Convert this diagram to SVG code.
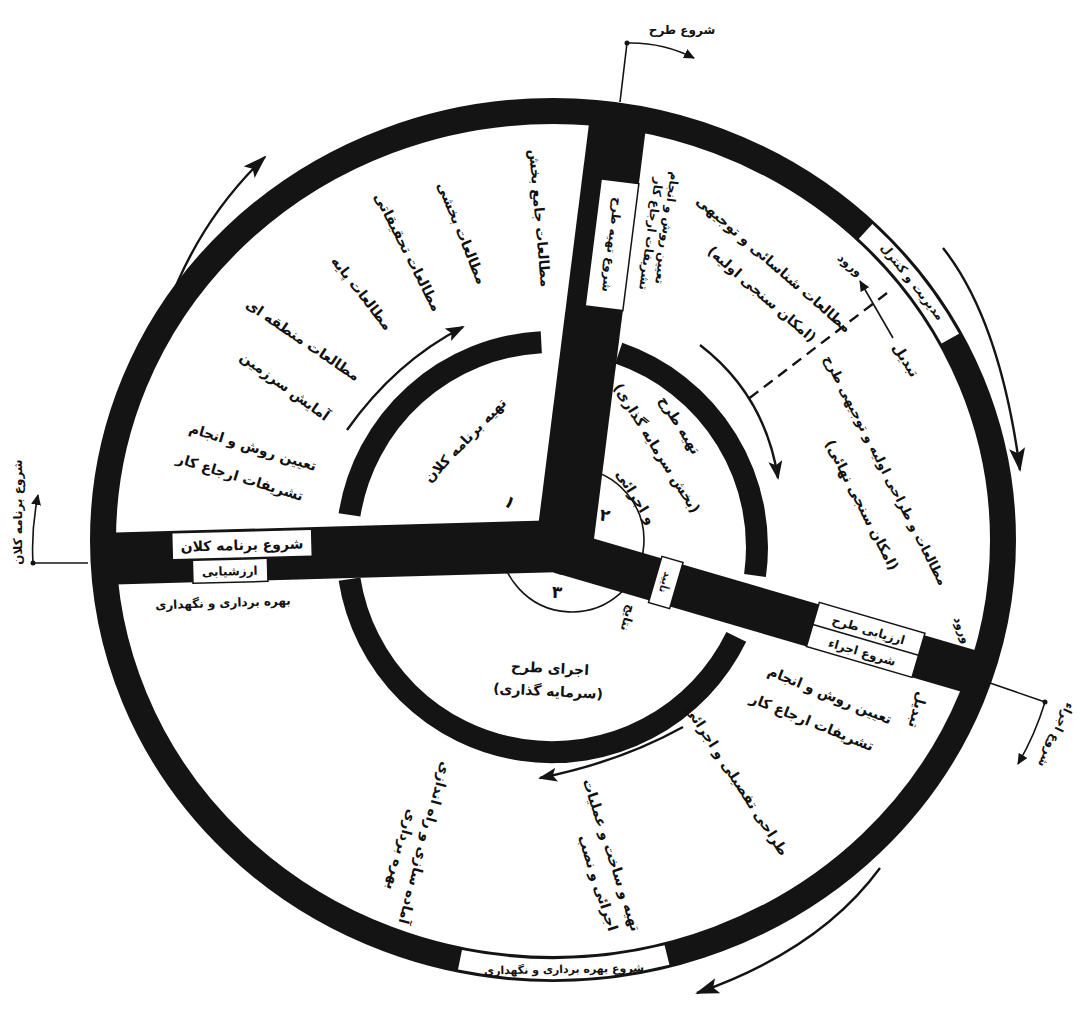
<svg xmlns="http://www.w3.org/2000/svg" width="1087" height="1011" viewBox="0 0 1087 1011">
<style>
.t{font-family:"DejaVu Sans","Noto Sans",sans-serif;font-size:14px;font-weight:bold;fill:#111;text-anchor:middle}
.s{font-size:12px}
.n{font-size:17px}
.bar{fill:#141414}
.ring{fill:none;stroke:#141414}
.wb{fill:#fff;stroke:#141414;stroke-width:1.5}
.ln{fill:none;stroke:#141414;stroke-width:2.4}
.lt{fill:none;stroke:#141414;stroke-width:1.6}
</style>
<defs>
<marker id="ah" markerUnits="userSpaceOnUse" markerWidth="26" markerHeight="16" refX="22" refY="8" orient="auto"><path d="M0,0 L24,8 L0,16 L5,8 z" fill="#141414"/></marker>
<marker id="am" markerUnits="userSpaceOnUse" markerWidth="20" markerHeight="14" refX="17" refY="7" orient="auto"><path d="M0,0 L19,7 L0,14 L4,7 z" fill="#141414"/></marker>
<marker id="as" markerUnits="userSpaceOnUse" markerWidth="12" markerHeight="10" refX="10" refY="5" orient="auto"><path d="M0,0 L11,5 L0,10 z" fill="#141414"/></marker>
</defs>
<rect width="1087" height="1011" fill="#fff"/>

<g id="rings">
<ellipse cx="553" cy="540" rx="450" ry="429" class="ring" stroke-width="26"/>
<path d="M349.5,514.9 A205,205 0 0 1 541.3,342.3" class="ring" stroke-width="22"/>
<path d="M618.7,353.2 A205,205 0 0 1 755,575.5" class="ring" stroke-width="22"/>
<path d="M736.3,636.9 A205,205 0 0 1 349.5,579.1" class="ring" stroke-width="22"/>
<path d="M578.3,468.3 A72,72 0 1 1 500,537.5" class="lt"/>
</g>

<g id="arms">
<polygon class="bar" points="98,533 565,520 565,572 98,585"/>
<g transform="translate(563,545) rotate(7.2)"><rect class="bar" x="-27" y="-440" width="57" height="440"/></g>
<g transform="translate(565,553) rotate(16.3)"><rect class="bar" x="0" y="-22" width="440" height="44"/></g>
<circle class="bar" cx="565" cy="548" r="27"/>
</g>

<g id="box-start-program">
<g transform="rotate(-1.5 242 545)">
<rect class="wb" x="172" y="531" width="140" height="27"/>
<text class="t" x="242" y="550">شروع برنامه کلان</text>
<rect class="wb" x="192" y="559" width="75" height="23"/>
<text class="t s" x="229" y="575">ارزشیابی</text>
</g>
</g>

<g id="box-start-design" transform="translate(563,545) rotate(7.2)">
<rect class="wb" x="-8" y="-368" width="38" height="128"/>
<text class="t s" transform="translate(11,-304) rotate(90)" y="4">شروع تهیه طرح</text>
</g>

<g id="box-evaluation" transform="translate(565,553) rotate(16.3)">
<rect class="wb" x="258" y="-24" width="110" height="46"/>
<line x1="258" y1="-1" x2="368" y2="-1" stroke="#141414" stroke-width="1.5"/>
<text class="t s" x="313" y="-7">ارزیابی طرح</text>
<text class="t s" x="313" y="16">شروع اجراء</text>
<rect class="wb" x="94" y="-24" width="22" height="48"/>
<text class="t" style="font-size:10px" transform="translate(105,0) rotate(90)" y="4">تأیید</text>
</g>

<g id="box-management">
<path d="M865.6,231.4 A450,429 0 0 1 950.3,338.6" fill="none" stroke="#fff" stroke-width="20"/>
<text class="t s" transform="translate(912.4,281.8) rotate(51.7)" y="4">مدیریت و کنترل</text>
</g>

<g id="box-operation">
<path d="M667,955 A450,429 0 0 1 460,959.8" fill="none" stroke="#fff" stroke-width="20"/>
<text class="t" style="font-size:11px" transform="translate(564,969) rotate(-1)" y="4">شروع بهره برداری و نگهداری</text>
</g>

<g id="sector-1">
<text class="t" transform="translate(465,440) rotate(-46)" y="5">تهیه برنامه کلان</text>
<text class="t n" transform="translate(510,502) rotate(35)" y="6">۱</text>
<text class="t" transform="translate(540,218) rotate(85)" y="5">مطالعات جامع بخش</text>
<text class="t" transform="translate(462,233) rotate(68)" y="5">مطالعات بخشی</text>
<text class="t" transform="translate(408,252) rotate(63)" y="5">مطالعات تحقیقاتی</text>
<text class="t" transform="translate(362,293) rotate(52)" y="5">مطالعات پایه</text>
<text class="t" transform="translate(303,340) rotate(34)" y="5">مطالعات منطقه ای</text>
<text class="t" transform="translate(285,386) rotate(36)" y="5">آمایش سرزمین</text>
<text class="t" transform="translate(253,447) rotate(17)" y="5">تعیین روش و انجام</text>
<text class="t" transform="translate(240,477) rotate(17)" y="5">تشریفات ارجاع کار</text>
</g>

<g id="sector-2">
<text class="t n" transform="translate(605,515) rotate(10)" y="6">۲</text>
<text class="t" transform="translate(680,425) rotate(58)" y="5">تهیه طرح</text>
<text class="t" transform="translate(657,448) rotate(58)" y="5">(بخش سرمایه گذاری)</text>
<text class="t" transform="translate(636,497) rotate(58)" y="5">و اجرائی</text>
<text class="t s" transform="translate(667,228) rotate(98)" y="4">تعیین روش و انجام</text>
<text class="t s" transform="translate(651,234) rotate(98)" y="4">تشریفات ارجاع کار</text>
<text class="t" transform="translate(774,264) rotate(41)" y="5">مطالعات شناسائی و توجیهی</text>
<text class="t" transform="translate(762,294) rotate(41)" y="5">(امکان سنجی اولیه)</text>
<text class="t s" transform="translate(850,265) rotate(40)" y="4">ورود</text>
<text class="t" transform="translate(906,360) rotate(58)" y="5">تبدیل</text>
<text class="t" style="font-size:13px" transform="translate(886,470) rotate(63)" y="5">مطالعات و طراحی اولیه و توجیهی طرح</text>
<text class="t" transform="translate(862,505) rotate(63)" y="5">(امکان سنجی نهائی)</text>
</g>

<g id="sector-3">
<text class="t n" transform="translate(557,592) rotate(5)" y="6">۳</text>
<text class="t" transform="translate(550,668) rotate(3)" y="5">اجرای طرح</text>
<text class="t" transform="translate(548,691) rotate(3)" y="5">(سرمایه گذاری)</text>
<text class="t s" transform="translate(628,618) rotate(106)" y="4">نتایج</text>
<text class="t s" transform="translate(962,630) rotate(70)" y="4">ورود</text>
<text class="t" transform="translate(918,710) rotate(105)" y="5">تبدیل</text>
<text class="t" transform="translate(830,695) rotate(22)" y="5">تعیین روش و انجام</text>
<text class="t" transform="translate(812,722) rotate(22)" y="5">تشریفات ارجاع کار</text>
<text class="t" transform="translate(737,780) rotate(57)" y="5">طراحی تفصیلی و اجرائی</text>
<text class="t" transform="translate(612,855) rotate(72)" y="5">تهیه و ساخت و عملیات</text>
<text class="t" transform="translate(598,883) rotate(72)" y="5">اجرائی و نصب</text>
<text class="t" transform="translate(425,843) rotate(105)" y="5">آماده سازی و راه اندازی</text>
<text class="t" transform="translate(402,850) rotate(105)" y="5">بهره برداری</text>
<text class="t s" transform="translate(223,603) rotate(-2)" y="4">بهره برداری و نگهداری</text>
</g>

<g id="outer-labels">
<text class="t s" x="682" y="34">شروع طرح</text>
<text class="t s" transform="translate(18,512) rotate(-90)" y="4">شروع برنامه کلان</text>
<text class="t s" transform="translate(1056,735) rotate(115)" y="4">شروع اجراء</text>
</g>

<g id="connectors">
<path class="ln" d="M150,368 Q178,240 265,157" marker-end="url(#ah)"/>
<path class="ln" d="M943,248 Q1000,320 1020,470" marker-end="url(#ah)"/>
<path class="ln" d="M880,868 Q820,950 697,993" marker-end="url(#ah)"/>
<path class="ln" d="M347,430 Q395,362 463,327" marker-end="url(#am)"/>
<path class="ln" d="M700,345 Q765,395 778,478" marker-end="url(#am)"/>
<path class="ln" d="M683,727 Q620,762 540,778" marker-end="url(#am)"/>
<path class="ln" d="M887,293 L747,400" stroke-dasharray="11 7"/>
<path class="lt" d="M893,338 L860,281" marker-end="url(#as)"/>
<path class="lt" d="M88,563 L33,563"/>
<circle cx="33" cy="563" r="2.5" fill="#141414"/>
<path class="lt" d="M33,563 Q31,530 38,495" marker-end="url(#as)"/>
<path class="lt" d="M620,102 L627,43"/>
<circle cx="627" cy="43" r="2.5" fill="#141414"/>
<path class="lt" d="M627,43 Q662,42 694,58" marker-end="url(#as)"/>
<path class="lt" d="M990,683 L1045,702"/>
<circle cx="1045" cy="702" r="2.5" fill="#141414"/>
<path class="lt" d="M1045,702 Q1035,735 1018,764" marker-end="url(#as)"/>
</g>
</svg>
